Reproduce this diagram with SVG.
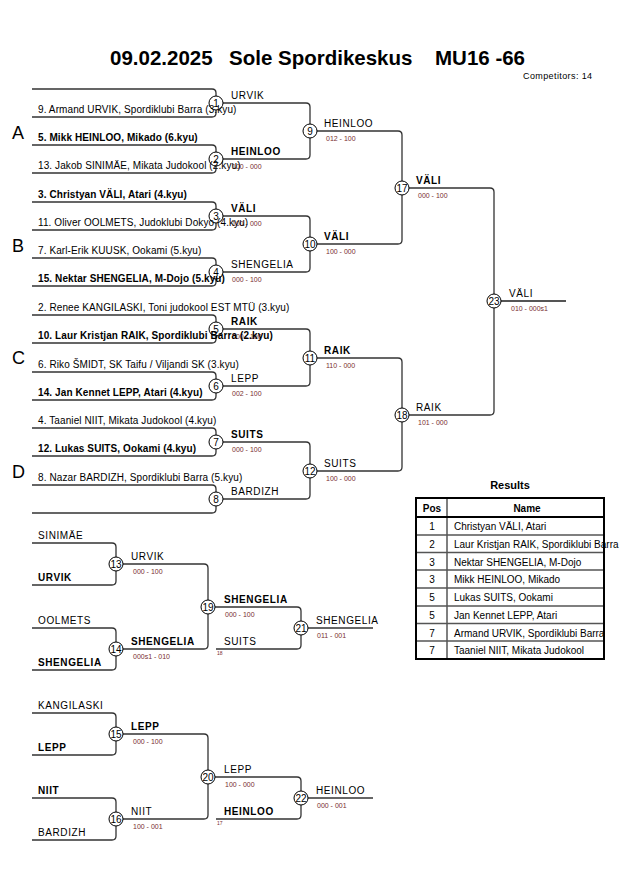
<svg xmlns="http://www.w3.org/2000/svg" width="630" height="891" viewBox="0 0 630 891">
<style>
text{font-family:"Liberation Sans",Arial,sans-serif;fill:#000}
.ln{fill:none;stroke:#333;stroke-width:1.3}
.fl{fill:none;stroke:#555;stroke-width:2}
.nm{font-size:10px;letter-spacing:0.1px}
.b{font-weight:bold}
.w{font-size:10px;letter-spacing:0.6px}
.sc{font-size:7px;fill:#7a2e2e}
.ci{fill:#fff;stroke:#000;stroke-width:1}
.cn{font-size:10px;text-anchor:middle}
.pool{font-size:18px}
.tiny{font-size:5px;fill:#7a2e2e}
.th{font-size:10px;font-weight:bold;text-anchor:middle}
.td{font-size:10px}
.tc{font-size:10px;text-anchor:middle}
</style>
<rect width="630" height="891" fill="#fff"/>
<g id="title">
<text x="110" y="65" font-size="20.5" font-weight="bold">09.02.2025</text>
<text x="229" y="65" font-size="20.5" font-weight="bold">Sole Spordikeskus</text>
<text x="435" y="65" font-size="20.5" font-weight="bold">MU16 -66</text>
<text x="523" y="79" font-size="9" letter-spacing="0.4">Competitors: 14</text>
</g>
<g id="pools">
<text class="pool" x="12" y="139">A</text>
<text class="pool" x="12" y="252">B</text>
<text class="pool" x="12" y="364">C</text>
<text class="pool" x="12" y="478">D</text>
</g>
<g id="connectors">
<path class="ln" d="M32,89 H212 Q216,89 216,93 V113 Q216,117 212,117 H32"/>
<path class="ln" d="M32,145 H212 Q216,145 216,149 V169 Q216,173 212,173 H32"/>
<path class="ln" d="M32,202 H212 Q216,202 216,206 V226 Q216,230 212,230 H32"/>
<path class="ln" d="M32,258 H212 Q216,258 216,262 V282 Q216,286 212,286 H32"/>
<path class="ln" d="M32,315 H212 Q216,315 216,319 V339 Q216,343 212,343 H32"/>
<path class="ln" d="M32,372 H212 Q216,372 216,376 V396 Q216,400 212,400 H32"/>
<path class="ln" d="M32,428 H212 Q216,428 216,432 V452 Q216,456 212,456 H32"/>
<path class="ln" d="M32,485 H212 Q216,485 216,489 V509 Q216,513 212,513 H32"/>
<path class="ln" d="M223,103 H306 Q310,103 310,107 V155 Q310,159 306,159 H223"/>
<path class="ln" d="M223,216 H306 Q310,216 310,220 V268 Q310,272 306,272 H223"/>
<path class="ln" d="M223,329 H306 Q310,329 310,333 V382 Q310,386 306,386 H223"/>
<path class="ln" d="M223,442 H306 Q310,442 310,446 V495 Q310,499 306,499 H223"/>
<path class="ln" d="M317,131 H398 Q402,131 402,135 V240 Q402,244 398,244 H317"/>
<path class="ln" d="M317,358 H398 Q402,358 402,362 V467 Q402,471 398,471 H317"/>
<path class="ln" d="M409,188 H490 Q494,188 494,192 V411 Q494,415 490,415 H409"/>
<path class="fl" d="M501,301 H566"/>
<path class="ln" d="M32,543 H112 Q116,543 116,547 V581 Q116,585 112,585 H32"/>
<path class="ln" d="M32,628 H112 Q116,628 116,632 V666 Q116,670 112,670 H32"/>
<path class="ln" d="M123,564 H204 Q208,564 208,568 V645 Q208,649 204,649 H123"/>
<path class="ln" d="M215,607 H297 Q301,607 301,611 V645 Q301,649 297,649 H216"/>
<path class="ln" d="M308,628 H373"/>
<path class="ln" d="M32,713 H112 Q116,713 116,717 V751 Q116,755 112,755 H32"/>
<path class="ln" d="M32,798 H112 Q116,798 116,802 V836 Q116,840 112,840 H32"/>
<path class="ln" d="M123,734 H204 Q208,734 208,738 V815 Q208,819 204,819 H123"/>
<path class="ln" d="M215,777 H297 Q301,777 301,781 V815 Q301,819 297,819 H216"/>
<path class="ln" d="M308,798 H373"/>
</g>
<g id="scores">
<text class="sc" x="232" y="169">100 - 000</text>
<text class="sc" x="232" y="226">100 - 000</text>
<text class="sc" x="232" y="282">000 - 100</text>
<text class="sc" x="232" y="339">000 - 100</text>
<text class="sc" x="232" y="396">002 - 100</text>
<text class="sc" x="232" y="452">000 - 100</text>
<text class="sc" x="326" y="141">012 - 100</text>
<text class="sc" x="326" y="254">100 - 000</text>
<text class="sc" x="326" y="368">110 - 000</text>
<text class="sc" x="326" y="481">100 - 000</text>
<text class="sc" x="418" y="198">000 - 100</text>
<text class="sc" x="418" y="425">101 - 000</text>
<text class="sc" x="511" y="311">010 - 000s1</text>
<text class="sc" x="133" y="574">000 - 100</text>
<text class="sc" x="133" y="659">000s1 - 010</text>
<text class="sc" x="225" y="617">000 - 100</text>
<text class="sc" x="317" y="638">011 - 001</text>
<text class="tiny" x="217" y="655">18</text>
<text class="sc" x="133" y="744">000 - 100</text>
<text class="sc" x="133" y="829">100 - 001</text>
<text class="sc" x="225" y="787">100 - 000</text>
<text class="sc" x="317" y="808">000 - 001</text>
<text class="tiny" x="217" y="825">17</text>
</g>
<g id="m1"><circle class="ci" cx="216" cy="103" r="7"/><text class="cn" x="216" y="107">1</text><text class="w" x="231" y="99">URVIK</text></g>
<g id="m2"><circle class="ci" cx="216" cy="159" r="7"/><text class="cn" x="216" y="163">2</text><text class="w b" x="231" y="155">HEINLOO</text></g>
<g id="m3"><circle class="ci" cx="216" cy="216" r="7"/><text class="cn" x="216" y="220">3</text><text class="w b" x="231" y="212">VÄLI</text></g>
<g id="m4"><circle class="ci" cx="216" cy="272" r="7"/><text class="cn" x="216" y="276">4</text><text class="w" x="231" y="268">SHENGELIA</text></g>
<g id="m5"><circle class="ci" cx="216" cy="329" r="7"/><text class="cn" x="216" y="333">5</text><text class="w b" x="231" y="325">RAIK</text></g>
<g id="m6"><circle class="ci" cx="216" cy="386" r="7"/><text class="cn" x="216" y="390">6</text><text class="w" x="231" y="382">LEPP</text></g>
<g id="m7"><circle class="ci" cx="216" cy="442" r="7"/><text class="cn" x="216" y="446">7</text><text class="w b" x="231" y="438">SUITS</text></g>
<g id="m8"><circle class="ci" cx="216" cy="499" r="7"/><text class="cn" x="216" y="503">8</text><text class="w" x="231" y="495">BARDIZH</text></g>
<g id="m9"><circle class="ci" cx="310" cy="131" r="7"/><text class="cn" x="310" y="135">9</text><text class="w" x="324" y="127">HEINLOO</text></g>
<g id="m10"><circle class="ci" cx="310" cy="244" r="7"/><text class="cn" x="310" y="248">10</text><text class="w b" x="324" y="240">VÄLI</text></g>
<g id="m11"><circle class="ci" cx="310" cy="358" r="7"/><text class="cn" x="310" y="362">11</text><text class="w b" x="324" y="354">RAIK</text></g>
<g id="m12"><circle class="ci" cx="310" cy="471" r="7"/><text class="cn" x="310" y="475">12</text><text class="w" x="324" y="467">SUITS</text></g>
<g id="m17"><circle class="ci" cx="402" cy="188" r="7"/><text class="cn" x="402" y="192">17</text><text class="w b" x="416" y="184">VÄLI</text></g>
<g id="m18"><circle class="ci" cx="402" cy="415" r="7"/><text class="cn" x="402" y="419">18</text><text class="w" x="416" y="411">RAIK</text></g>
<g id="m23"><circle class="ci" cx="494" cy="301" r="7"/><text class="cn" x="494" y="305">23</text><text class="w" x="509" y="297">VÄLI</text></g>
<g id="m13"><circle class="ci" cx="116" cy="564" r="7"/><text class="cn" x="116" y="568">13</text><text class="w" x="131" y="560">URVIK</text><text class="w" x="38" y="539">SINIMÄE</text><text class="w b" x="38" y="581">URVIK</text></g>
<g id="m14"><circle class="ci" cx="116" cy="649" r="7"/><text class="cn" x="116" y="653">14</text><text class="w b" x="131" y="645">SHENGELIA</text><text class="w" x="38" y="624">OOLMETS</text><text class="w b" x="38" y="666">SHENGELIA</text></g>
<g id="m19"><circle class="ci" cx="208" cy="607" r="7"/><text class="cn" x="208" y="611">19</text><text class="w b" x="224" y="603">SHENGELIA</text><text class="w" x="224" y="645">SUITS</text></g>
<g id="m21"><circle class="ci" cx="301" cy="628" r="7"/><text class="cn" x="301" y="632">21</text><text class="w" x="316" y="624">SHENGELIA</text></g>
<g id="m15"><circle class="ci" cx="116" cy="734" r="7"/><text class="cn" x="116" y="738">15</text><text class="w b" x="131" y="730">LEPP</text><text class="w" x="38" y="709">KANGILASKI</text><text class="w b" x="38" y="751">LEPP</text></g>
<g id="m16"><circle class="ci" cx="116" cy="819" r="7"/><text class="cn" x="116" y="823">16</text><text class="w" x="131" y="815">NIIT</text><text class="w b" x="38" y="794">NIIT</text><text class="w" x="38" y="836">BARDIZH</text></g>
<g id="m20"><circle class="ci" cx="208" cy="777" r="7"/><text class="cn" x="208" y="781">20</text><text class="w" x="224" y="773">LEPP</text><text class="w b" x="224" y="815">HEINLOO</text></g>
<g id="m22"><circle class="ci" cx="301" cy="798" r="7"/><text class="cn" x="301" y="802">22</text><text class="w" x="316" y="794">HEINLOO</text></g>
<g id="entrants">
<text class="nm" x="38" y="113">9. Armand URVIK, Spordiklubi Barra (3.kyu)</text>
<text class="nm b" x="38" y="141">5. Mikk HEINLOO, Mikado (6.kyu)</text>
<text class="nm" x="38" y="169">13. Jakob SINIMÄE, Mikata Judokool (2.kyu)</text>
<text class="nm b" x="38" y="198">3. Christyan VÄLI, Atari (4.kyu)</text>
<text class="nm" x="38" y="226">11. Oliver OOLMETS, Judoklubi Dokyo (4.kyu)</text>
<text class="nm" x="38" y="254">7. Karl-Erik KUUSK, Ookami (5.kyu)</text>
<text class="nm b" x="38" y="282">15. Nektar SHENGELIA, M-Dojo (5.kyu)</text>
<text class="nm" x="38" y="311">2. Renee KANGILASKI, Toni judokool EST MTÜ  (3.kyu)</text>
<text class="nm b" x="38" y="339">10. Laur Kristjan RAIK, Spordiklubi Barra (2.kyu)</text>
<text class="nm" x="38" y="368">6. Riko ŠMIDT, SK Taifu / Viljandi SK (3.kyu)</text>
<text class="nm b" x="38" y="396">14. Jan Kennet LEPP, Atari (4.kyu)</text>
<text class="nm" x="38" y="424">4. Taaniel NIIT, Mikata Judokool (4.kyu)</text>
<text class="nm b" x="38" y="452">12. Lukas SUITS, Ookami (4.kyu)</text>
<text class="nm" x="38" y="481">8. Nazar BARDIZH, Spordiklubi Barra (5.kyu)</text>
</g>
<g id="results">
<text x="510" y="489" font-size="11" font-weight="bold" text-anchor="middle">Results</text>
<g stroke="#555" stroke-width="1.5">
<line x1="416" y1="535" x2="604" y2="535"/>
<line x1="416" y1="552.5" x2="604" y2="552.5"/>
<line x1="416" y1="570" x2="604" y2="570"/>
<line x1="416" y1="588" x2="604" y2="588"/>
<line x1="416" y1="606" x2="604" y2="606"/>
<line x1="416" y1="623.5" x2="604" y2="623.5"/>
<line x1="416" y1="641" x2="604" y2="641"/>
<line x1="447" y1="498" x2="447" y2="659"/>
</g>
<line x1="416" y1="517" x2="604" y2="517" stroke="#000" stroke-width="2"/>
<rect x="416" y="498" width="188" height="161" fill="none" stroke="#000" stroke-width="2"/>
<text class="th" x="432" y="512">Pos</text>
<text class="th" x="527" y="512">Name</text>
<text class="tc" x="432" y="530">1</text><text class="td" x="454" y="530">Christyan VÄLI, Atari</text>
<text class="tc" x="432" y="548">2</text><text class="td" x="454" y="548">Laur Kristjan RAIK, Spordiklubi Barra</text>
<text class="tc" x="432" y="566">3</text><text class="td" x="454" y="566">Nektar SHENGELIA, M-Dojo</text>
<text class="tc" x="432" y="583">3</text><text class="td" x="454" y="583">Mikk HEINLOO, Mikado</text>
<text class="tc" x="432" y="601">5</text><text class="td" x="454" y="601">Lukas SUITS, Ookami</text>
<text class="tc" x="432" y="619">5</text><text class="td" x="454" y="619">Jan Kennet LEPP, Atari</text>
<text class="tc" x="432" y="637">7</text><text class="td" x="454" y="637">Armand URVIK, Spordiklubi Barra</text>
<text class="tc" x="432" y="654">7</text><text class="td" x="454" y="654">Taaniel NIIT, Mikata Judokool</text>
</g>
</svg>
